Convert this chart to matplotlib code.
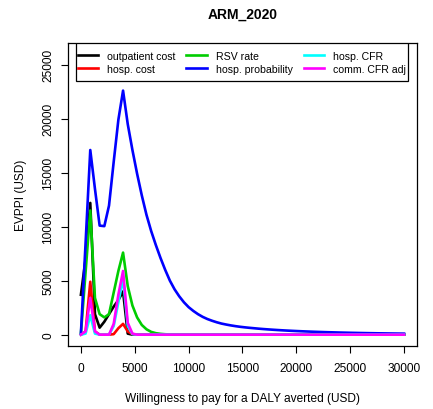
import numpy as np
import matplotlib.pyplot as plt
from matplotlib.patches import Rectangle

plt.rcParams['font.family'] = ['Liberation Sans', 'DejaVu Sans']

# willingness-to-pay grid (USD per DALY averted), 70 evenly spaced steps
wtp = np.linspace(0, 30000, 70)

# EVPPI per parameter group (USD)
outpatient_cost = [3700, 7000, 12200, 1900, 650, 1200, 1900, 2600, 3200, 4000, 100] + [0] * 59
hosp_cost = [0, 300, 4900, 300, 0, 0, 0, 50, 600, 1000, 300, 50] + [0] * 58
rsv_rate = [100, 5800, 11500, 3400, 1900, 1600, 1900, 3900, 5900, 7600,
            4500, 2700, 1600, 900, 500, 260, 140, 75, 40, 20, 10] + [0] * 49
hosp_prob = [100, 8500, 17100, 13500, 10100, 10050, 11950, 16000, 19900, 22600,
             19500, 17100, 14900, 12900, 11100, 9600, 8300, 7100, 6000, 5000,
             4200, 3550, 3000, 2550, 2200, 1900, 1650, 1450, 1290, 1150,
             1030, 940, 860, 790, 730, 680, 635, 595, 555, 520,
             488, 458, 430, 404, 380, 358, 337, 318, 300, 283,
             267, 252, 238, 225, 213, 201, 190, 180, 170, 161,
             152, 144, 137, 130, 123, 117, 111, 105, 100, 95]
hosp_cfr = [0, 100, 1800, 100, 0, 0, 0, 800, 3000, 5200, 800, 50] + [0] * 58
comm_cfr_adj = [0, 300, 3400, 300, 0, 0, 0, 1000, 3700, 5900, 1100, 100] + [0] * 58

series = [outpatient_cost, hosp_cost, rsv_rate, hosp_prob, hosp_cfr, comm_cfr_adj]
labels = ['outpatient cost', 'hosp. cost', 'RSV rate', 'hosp. probability',
          'hosp. CFR', 'comm. CFR adj']
colors = ['black', '#FF0000', '#00CD00', '#0000FF', '#00FFFF', '#FF00FF']

fig = plt.figure(figsize=(4.33, 4.10), dpi=100)
ax = fig.add_axes([0.157, 0.1544, 0.806, 0.7383])

for y, lab, c in zip(series, labels, colors):
    ax.plot(wtp, y, color=c, lw=1.9, label=lab)

ax.set_xlim(-1200, 31200)
ax.set_ylim(-1020, 27010)
ax.set_xticks(np.arange(0, 30001, 5000))
ax.set_yticks(np.arange(0, 25001, 5000))
ax.tick_params(direction='out', length=5, width=0.8, labelsize=8.6, pad=5)
ax.tick_params(axis='x', pad=7)
for lab in ax.get_yticklabels():
    lab.set_rotation(90)
    lab.set_va('center')
for sp in ax.spines.values():
    sp.set_linewidth(0.9)

ax.set_xlabel('Willingness to pay for a DALY averted (USD)', fontsize=8.6, labelpad=13)
ax.set_ylabel('EVPPI (USD)', fontsize=8.6, labelpad=11)
ax.set_title('ARM_2020', fontsize=10, fontweight='bold', pad=18)

# legend box drawn separately so the entries can sit with little side padding
box = (0.023, 0.874, 0.951, 0.126)
ax.add_patch(Rectangle(box[:2], box[2], box[3], transform=ax.transAxes,
                       facecolor='white', edgecolor='black', lw=0.9, zorder=4))
leg = ax.legend(ncol=3, loc='center left', bbox_to_anchor=box,
                mode='expand', borderaxespad=0, fontsize=7.6, handlelength=1.95,
                handletextpad=0.85, labelspacing=0.28, columnspacing=0.5,
                frameon=False, borderpad=0.15)
leg.set_zorder(5)

fig.savefig('out.png', dpi=100)
